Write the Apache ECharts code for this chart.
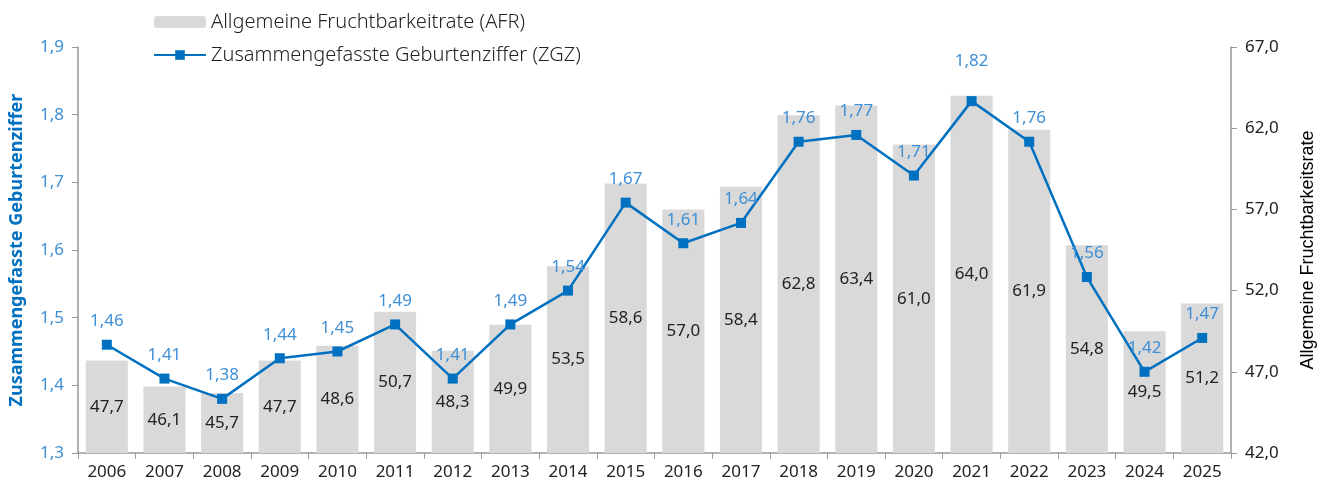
<!DOCTYPE html>
<html>
<head>
<meta charset="utf-8">
<script src="https://cdn.jsdelivr.net/npm/echarts@6/dist/echarts.min.js"></script>
<style>
  html, body { margin: 0; padding: 0; background: #fff; }
  #chart { width: 1325px; height: 486px; }
</style>
</head>
<body>
<div id="chart"></div>
<script>
// Jahre
var years = ["2006","2007","2008","2009","2010","2011","2012","2013","2014","2015",
             "2016","2017","2018","2019","2020","2021","2022","2023","2024","2025"];
// Allgemeine Fruchtbarkeitsrate (AFR)
var afr = [47.7, 46.1, 45.7, 47.7, 48.6, 50.7, 48.3, 49.9, 53.5, 58.6,
           57.0, 58.4, 62.8, 63.4, 61.0, 64.0, 61.9, 54.8, 49.5, 51.2];
// Zusammengefasste Geburtenziffer (ZGZ)
var zgz = [1.46, 1.41, 1.38, 1.44, 1.45, 1.49, 1.41, 1.49, 1.54, 1.67,
           1.61, 1.64, 1.76, 1.77, 1.71, 1.82, 1.76, 1.56, 1.42, 1.47];

var FONT = "'Noto Sans', sans-serif";
var BLUE = "#0070c0";
var LBLUE = "#3f8fd6";

function komma(v, d) { return Number(v).toFixed(d).replace(".", ","); }

var zgzData = zgz.map(function (v, i) {
  var item = { value: v };
  if (years[i] === "2021") item.label = { distance: 26 };
  return item;
});

var chart = echarts.init(document.getElementById("chart"));
chart.setOption({
  animation: false,
  textStyle: { fontFamily: FONT },
  legend: {
    orient: "vertical",
    left: 148,
    top: 7,
    itemGap: 13,
    itemWidth: 52,
    itemHeight: 12,
    textStyle: { fontFamily: FONT, fontSize: 20, color: "#222", fontWeight: 300 },
    data: [
      { name: "Allgemeine Fruchtbarkeitrate (AFR)" },
      { name: "Zusammengefasste Geburtenziffer (ZGZ)" }
    ]
  },
  grid: { left: 73, right: 93, top: 47, bottom: 33, containLabel: false },
  xAxis: {
    type: "category",
    data: years,
    axisLine: { lineStyle: { color: "#999", width: 1.5 } },
    axisTick: { show: true, length: 6, lineStyle: { color: "#999" } },
    axisLabel: { color: "#222", fontSize: 17, fontFamily: FONT, margin: 11 }
  },
  yAxis: [
    {
      type: "value",
      min: 1.3, max: 1.9, interval: 0.1,
      position: "left",
      name: "Zusammengefasste Geburtenziffer",
      nameLocation: "middle",
      nameGap: 52,
      nameRotate: 90,
      nameTextStyle: { color: BLUE, fontSize: 18, fontWeight: "bold", fontFamily: FONT },
      axisLine: { show: true, lineStyle: { color: "#999", width: 1.5 } },
      axisTick: { show: true, length: 6, lineStyle: { color: "#999" } },
      axisLabel: { color: LBLUE, fontSize: 17, fontFamily: FONT, margin: 14,
                   formatter: function (v) { return komma(v, 1); } },
      splitLine: { show: false }
    },
    {
      type: "value",
      min: 42, max: 67, interval: 5,
      position: "right",
      name: "Allgemeine Fruchtbarkeitsrate",
      nameLocation: "middle",
      nameGap: 68,
      nameRotate: 90,
      nameTextStyle: { color: "#000", fontSize: 18, fontFamily: "'Liberation Sans', Arial, sans-serif" },
      axisLine: { show: true, lineStyle: { color: "#999", width: 1.5 } },
      axisTick: { show: true, length: 6, lineStyle: { color: "#999" } },
      axisLabel: { color: "#222", fontSize: 17, fontFamily: FONT, margin: 14,
                   formatter: function (v) { return komma(v, 1); } },
      splitLine: { show: false }
    }
  ],
  series: [
    {
      name: "Allgemeine Fruchtbarkeitrate (AFR)",
      type: "bar",
      yAxisIndex: 1,
      data: afr,
      barWidth: "73%",
      itemStyle: { color: "#d9d9d9" },
      label: {
        show: true,
        position: "inside",
        color: "#222",
        fontSize: 17,
        fontFamily: FONT,
        formatter: function (p) { return komma(p.value, 1); }
      },
      z: 1
    },
    {
      name: "Zusammengefasste Geburtenziffer (ZGZ)",
      type: "line",
      yAxisIndex: 0,
      data: zgzData,
      symbol: "rect",
      symbolSize: 10,
      lineStyle: { color: BLUE, width: 2.5 },
      itemStyle: { color: BLUE },
      label: {
        show: true,
        position: "top",
        distance: 10,
        color: LBLUE,
        fontSize: 17,
        fontFamily: FONT,
        formatter: function (p) { return komma(p.value, 2); }
      },
      z: 3
    }
  ]
});
</script>
</body>
</html>
